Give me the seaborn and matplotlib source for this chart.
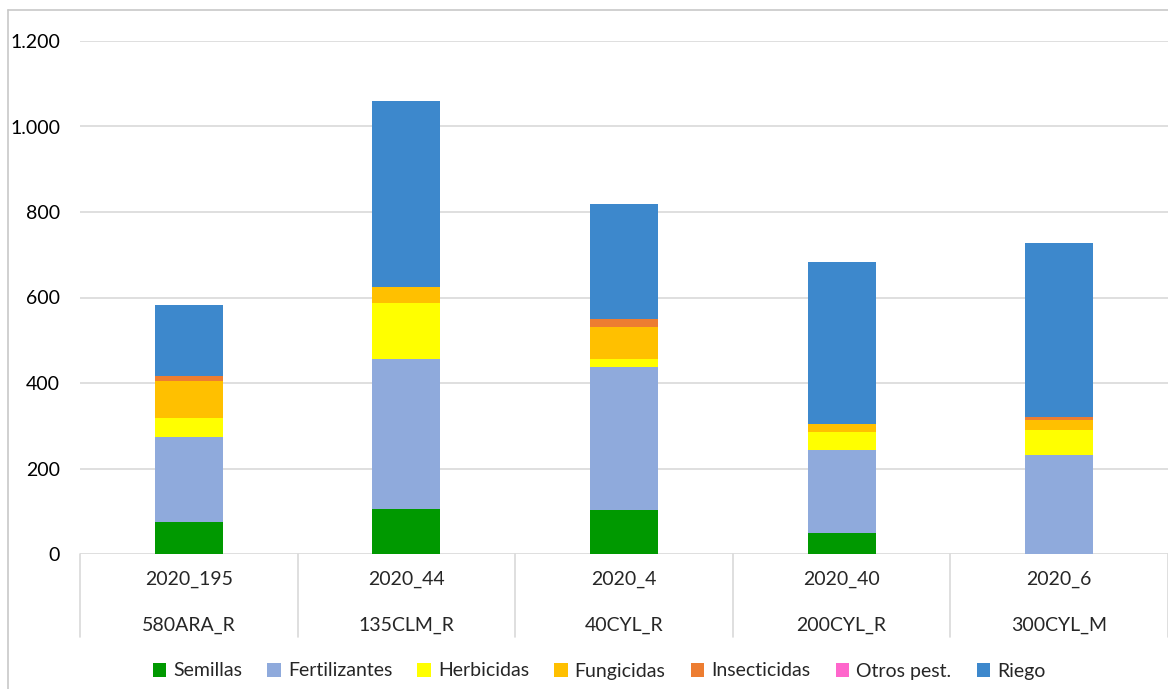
import matplotlib
matplotlib.use("Agg")
import matplotlib.pyplot as plt
import matplotlib.ticker as mticker
import matplotlib.transforms as mtransforms
from matplotlib.patches import Patch
from matplotlib.lines import Line2D
import numpy as np
import pandas as pd
import seaborn as sns

# ---- data ----
codes = ["2020_195", "2020_44", "2020_4", "2020_40", "2020_6"]
groups = ["580ARA_R", "135CLM_R", "40CYL_R", "200CYL_R", "300CYL_M"]
series = ["Semillas", "Fertilizantes", "Herbicidas", "Fungicidas",
          "Insecticidas", "Otros pest.", "Riego"]
semillas = [76, 105, 103, 49, 0]
fertilizantes = [197, 350, 334, 195, 232]
herbicidas = [45, 133, 20, 41, 59]
fungicidas = [87, 36, 75, 18, 23]
insecticidas = [11, 0, 17, 0, 6]
otros = [1, 0, 0, 0, 0]
riego = [165, 436, 270, 380, 407]
yticks = [0, 200, 400, 600, 800, 1000, 1200]

colors = ["#009900", "#8FAADC", "#FFFF00", "#FFC000", "#ED7D31", "#FF66CC", "#3D88CC"]

values = [semillas, fertilizantes, herbicidas, fungicidas, insecticidas, otros, riego]
cum = np.cumsum(np.array(values, dtype=float), axis=0)

sns.set_style("white")
plt.rcParams["font.family"] = ["Lato", "DejaVu Sans"]
FS = 14

fig = plt.figure(figsize=(11.68, 6.89), dpi=100)
W, H = 1168, 689
ax_left, ax_right = 80 / W, 1168 / W
ax_bottom, ax_top = 1 - 554 / H, 1 - 41 / H
ax = fig.add_axes([ax_left, ax_bottom, ax_right - ax_left, ax_top - ax_bottom])

for i in range(len(series) - 1, -1, -1):
    df = pd.DataFrame({"cat": codes, "val": cum[i]})
    sns.barplot(data=df, x="cat", y="val", order=codes, color=colors[i],
                saturation=1, width=0.313, ax=ax, linewidth=0, zorder=3)

ax.set_xlim(-0.5, 4.5)
ax.set_ylim(0, 1200)
ax.set_yticks(yticks)
ax.yaxis.set_major_formatter(mticker.FuncFormatter(lambda v, p: f"{int(v):,}".replace(",", ".")))
ax.tick_params(axis="y", length=0, labelsize=FS, pad=14.4, colors="#000000")
ax.tick_params(axis="x", length=0, labelbottom=False)
ax.set_xlabel("")
ax.set_ylabel("")
for s in ax.spines.values():
    s.set_visible(False)
ax.grid(axis="y", color="#D9D9D9", linewidth=1.2, zorder=0)
ax.set_axisbelow(True)

# category axis box
trans = mtransforms.blended_transform_factory(ax.transData, ax.transAxes)
sep_depth = -(637 - 554) / 513
for xs in np.arange(-0.5, 5.0, 1.0):
    ax.add_line(Line2D([xs, xs], [0, sep_depth], transform=trans, color="#D9D9D9",
                       linewidth=1.2, clip_on=False))
for j, (c, g) in enumerate(zip(codes, groups)):
    ax.text(j, -(579 - 554) / 513, c, transform=trans, ha="center", va="center",
            fontsize=FS)
    ax.text(j, -(625 - 554) / 513, g, transform=trans, ha="center", va="center",
            fontsize=FS)

# figure frame (left and top borders)
fig.add_artist(Line2D([8 / W, 8 / W], [0, 1 - 10 / H], transform=fig.transFigure,
                      color="#C8C8C8", linewidth=1.2))
fig.add_artist(Line2D([8 / W, 1], [1 - 10 / H, 1 - 10 / H], transform=fig.transFigure,
                      color="#C8C8C8", linewidth=1.2))

handles = [Patch(facecolor=colors[i], edgecolor="none", label=series[i]) for i in range(len(series))]
fig.legend(handles=handles, loc="center", bbox_to_anchor=(599 / W, 1 - 671 / H), ncol=7,
           frameon=False, fontsize=FS, handlelength=0.7, handleheight=0.7,
           handletextpad=0.35, columnspacing=1.3)

fig.savefig("out.png", dpi=100)
